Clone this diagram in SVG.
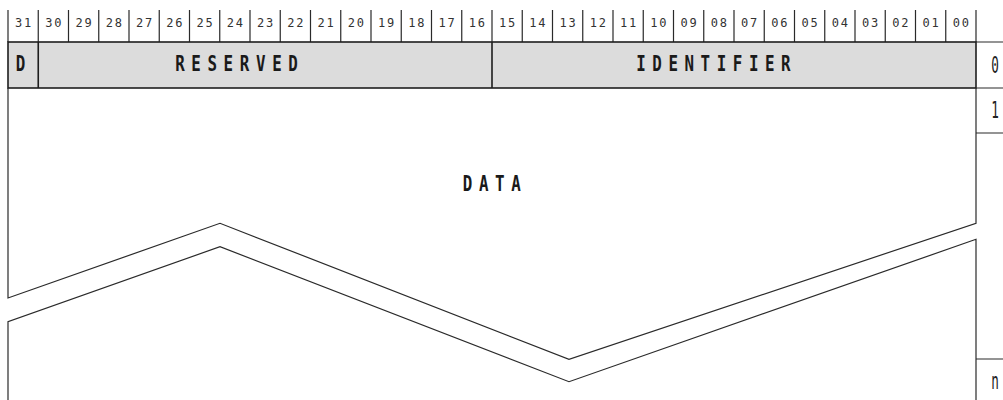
<svg xmlns="http://www.w3.org/2000/svg" width="1003" height="400" viewBox="0 0 1003 400">
<style>
.ln{stroke:#2a2a2a;stroke-width:1.2;fill:none}
.hdr{fill:#dcdcdc;stroke:#1e1e1e;stroke-width:1.6}
.bit{font-family:"DejaVu Sans Mono","Liberation Mono",monospace;font-size:12px;fill:#333;text-anchor:middle}
.lbl{font-family:"DejaVu Sans Mono","Liberation Mono",monospace;font-size:22px;font-weight:bold;fill:#1a1a1a;text-anchor:middle}
.row{font-family:"DejaVu Sans Mono","Liberation Mono",monospace;font-size:23px;fill:#222;text-anchor:middle}
</style>
<rect width="1003" height="400" fill="#fff"/>
<g id="ruler">
<path class="ln" d="M8,10V42M38.25,10V42M68.5,10V42M98.75,10V42M129,10V42M159.25,10V42M189.5,10V42M219.75,10V42M250,10V42M280.25,10V42M310.5,10V42M340.75,10V42M371,10V42M401.25,10V42M431.5,10V42M461.75,10V42M492,10V42M522.25,10V42M552.5,10V42M582.75,10V42M613,10V42M643.25,10V42M673.5,10V42M703.75,10V42M734,10V42M764.25,10V42M794.5,10V42M824.75,10V42M855,10V42M885.25,10V42M915.5,10V42M945.75,10V42M976,10V42"/>
<text class="bit" y="27" x="18.6 27.6">31</text>
<text class="bit" y="27" x="48.9 57.9">30</text>
<text class="bit" y="27" x="79.1 88.1">29</text>
<text class="bit" y="27" x="109.4 118.4">28</text>
<text class="bit" y="27" x="139.6 148.6">27</text>
<text class="bit" y="27" x="169.9 178.9">26</text>
<text class="bit" y="27" x="200.1 209.1">25</text>
<text class="bit" y="27" x="230.4 239.4">24</text>
<text class="bit" y="27" x="260.6 269.6">23</text>
<text class="bit" y="27" x="290.9 299.9">22</text>
<text class="bit" y="27" x="321.1 330.1">21</text>
<text class="bit" y="27" x="351.4 360.4">20</text>
<text class="bit" y="27" x="381.6 390.6">19</text>
<text class="bit" y="27" x="411.9 420.9">18</text>
<text class="bit" y="27" x="442.1 451.1">17</text>
<text class="bit" y="27" x="472.4 481.4">16</text>
<text class="bit" y="27" x="502.6 511.6">15</text>
<text class="bit" y="27" x="532.9 541.9">14</text>
<text class="bit" y="27" x="563.1 572.1">13</text>
<text class="bit" y="27" x="593.4 602.4">12</text>
<text class="bit" y="27" x="623.6 632.6">11</text>
<text class="bit" y="27" x="653.9 662.9">10</text>
<text class="bit" y="27" x="684.1 693.1">09</text>
<text class="bit" y="27" x="714.4 723.4">08</text>
<text class="bit" y="27" x="744.6 753.6">07</text>
<text class="bit" y="27" x="774.9 783.9">06</text>
<text class="bit" y="27" x="805.1 814.1">05</text>
<text class="bit" y="27" x="835.4 844.4">04</text>
<text class="bit" y="27" x="865.6 874.6">03</text>
<text class="bit" y="27" x="895.9 904.9">02</text>
<text class="bit" y="27" x="926.1 935.1">01</text>
<text class="bit" y="27" x="956.4 965.4">00</text>
</g>
<g id="header">
<rect class="hdr" x="8" y="42" width="968" height="46"/>
<path class="hdr" d="M38.25,42V88M492,42V88"/>
</g>
<g id="field-d">
<text class="lbl" transform="scale(0.72,1)" y="71.5" x="28.5">D</text>
</g>
<g id="field-reserved">
<text class="lbl" transform="scale(0.72,1)" y="71.5" x="250 272.4 294.9 317.2 339.7 362.1 384.6 406.9">RESERVED</text>
</g>
<g id="field-identifier">
<text class="lbl" transform="scale(0.72,1)" y="71.5" x="890.3 912.6 935 957.4 979.7 1002.1 1024.4 1046.8 1069.2 1091.5">IDENTIFIER</text>
</g>
<g id="data">
<polyline class="ln" points="8,88 8,298 220,223.3 569,359.3 976,223.3 976,88"/>
<polyline class="ln" points="8,400 8,321.7 220,246.7 569,381.7 976,239.3 976,400"/>
<text class="lbl" transform="scale(0.72,1)" y="191.5" x="649.3 671.8 694.3 716.7">DATA</text>
</g>
<g id="row-labels">
<path class="ln" d="M976,42H1003M976,88H1003M976,133H1003M976,359H1003"/>
<text class="row" transform="scale(0.55,1)" x="1809" y="73">0</text>
<text class="row" transform="scale(0.55,1)" x="1809" y="118">1</text>
<text class="row" transform="scale(0.55,1)" x="1809" y="389">n</text>
</g>
<g id="connectors"/>
</svg>
